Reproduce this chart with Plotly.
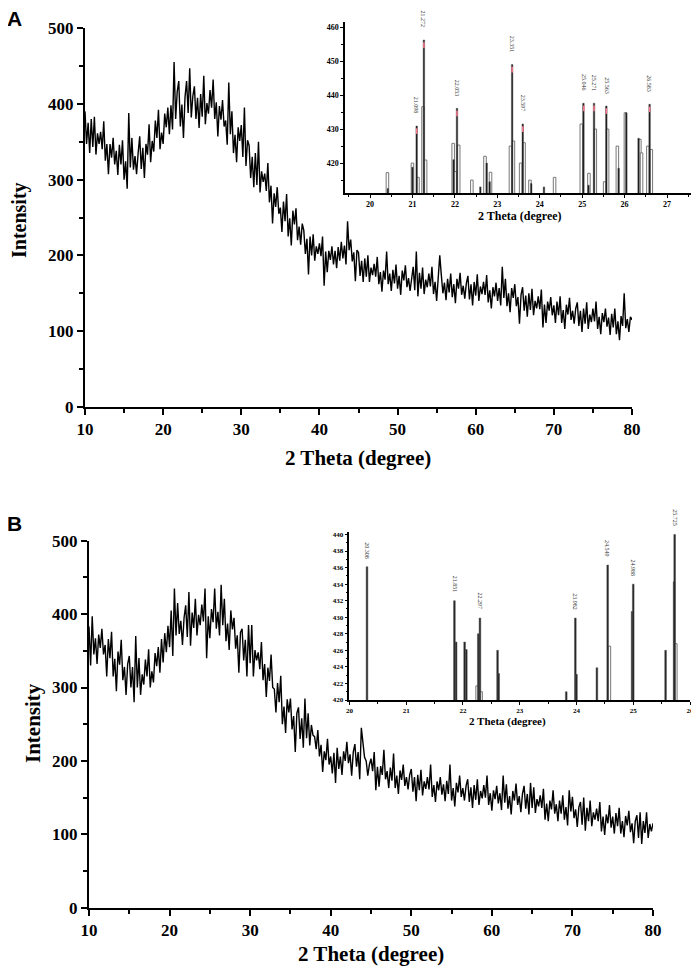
import numpy as np
import plotly.graph_objects as go

# 2-theta scan positions (degrees), 0.2 deg step
two_theta = np.round(np.arange(10, 80.001, 0.2), 2)

# Panel A intensity (5 points per degree, one row = 2 degrees)
intensity_a = [
    390, 347, 375, 335, 380, 343, 383, 333, 361, 347,
    363, 340, 377, 325, 347, 307, 347, 329, 355, 320,
    338, 306, 346, 320, 352, 300, 324, 288, 388, 316,
    355, 313, 331, 307, 335, 357, 314, 342, 302, 347,
    333, 373, 323, 351, 337, 378, 355, 392, 340, 362,
    347, 387, 369, 395, 360, 398, 366, 455, 380, 416,
    430, 370, 399, 355, 409, 430, 388, 447, 382, 410,
    423, 380, 408, 368, 413, 383, 437, 373, 401, 387,
    418, 395, 432, 380, 402, 357, 397, 379, 405, 370,
    378, 346, 428, 360, 390, 335, 359, 323, 369, 351,
    372, 330, 395, 318, 352, 345, 302, 330, 290, 335,
    293, 350, 283, 311, 297, 308, 285, 322, 270, 292,
    242, 282, 264, 290, 255, 263, 231, 271, 245, 281,
    225, 249, 213, 259, 241, 262, 220, 238, 214, 242,
    233, 202, 222, 175, 225, 200, 228, 193, 212, 202,
    216, 199, 225, 160, 205, 178, 206, 194, 212, 188,
    206, 183, 211, 193, 218, 196, 213, 188, 245, 207,
    221, 192, 204, 166, 207, 204, 173, 193, 165, 196,
    172, 200, 165, 184, 174, 189, 172, 198, 162, 178,
    152, 180, 168, 205, 162, 176, 153, 181, 163, 188,
    156, 173, 148, 180, 167, 187, 158, 170, 153, 173,
    185, 154, 205, 146, 177, 156, 184, 149, 168, 158,
    176, 159, 185, 149, 165, 140, 168, 200, 174, 150,
    164, 141, 169, 151, 176, 145, 162, 137, 169, 156,
    177, 148, 160, 143, 163, 173, 142, 162, 134, 165,
    147, 175, 140, 159, 149, 165, 148, 174, 138, 154,
    130, 158, 146, 164, 140, 157, 134, 185, 144, 169,
    133, 150, 125, 157, 144, 162, 133, 145, 110, 148,
    158, 127, 147, 119, 150, 128, 156, 121, 140, 130,
    146, 129, 155, 105, 135, 111, 139, 127, 145, 121,
    134, 111, 139, 121, 146, 111, 128, 103, 135, 122,
    144, 115, 127, 110, 130, 138, 107, 127, 99, 130,
    110, 138, 103, 122, 112, 130, 113, 139, 103, 119,
    96, 124, 112, 130, 106, 118, 95, 123, 105, 130,
    96, 113, 88, 120, 107, 150, 104, 116, 99, 119,
    115,
]

# Panel B intensity
intensity_b = [
    383, 330, 397, 345, 367, 332, 372, 354, 380, 345,
    358, 315, 366, 340, 376, 315, 339, 295, 349, 331,
    365, 310, 328, 290, 332, 343, 300, 328, 280, 370,
    300, 340, 290, 318, 304, 338, 315, 352, 300, 322,
    307, 347, 329, 355, 320, 366, 334, 374, 348, 384,
    355, 405, 343, 435, 371, 415, 373, 391, 358, 395,
    412, 369, 430, 357, 402, 381, 421, 371, 399, 385,
    413, 390, 435, 340, 397, 367, 407, 389, 435, 380,
    403, 371, 440, 385, 421, 363, 387, 351, 405, 379,
    395, 353, 371, 320, 375, 380, 337, 365, 315, 385,
    333, 385, 315, 351, 337, 348, 325, 362, 310, 332,
    287, 327, 309, 345, 300, 298, 266, 306, 280, 316,
    250, 274, 238, 284, 266, 285, 243, 261, 212, 265,
    273, 230, 258, 218, 285, 231, 265, 221, 249, 235,
    233, 216, 242, 206, 222, 185, 213, 201, 230, 195,
    206, 183, 211, 170, 218, 189, 206, 181, 213, 200,
    226, 197, 209, 180, 212, 223, 192, 212, 175, 245,
    225, 205, 200, 180, 195, 203, 186, 212, 160, 192,
    165, 193, 181, 215, 175, 186, 163, 191, 173, 210,
    163, 180, 155, 187, 174, 195, 166, 178, 161, 181,
    189, 158, 178, 145, 181, 160, 188, 153, 172, 162,
    178, 161, 195, 151, 167, 144, 172, 160, 178, 154,
    168, 145, 173, 155, 195, 146, 163, 138, 170, 157,
    180, 151, 163, 146, 166, 175, 144, 164, 136, 167,
    147, 175, 140, 159, 149, 167, 150, 180, 140, 156,
    132, 160, 148, 166, 142, 156, 133, 180, 143, 168,
    135, 152, 127, 159, 146, 169, 140, 152, 130, 155,
    166, 135, 155, 127, 170, 136, 164, 129, 148, 138,
    153, 136, 162, 120, 142, 118, 146, 134, 160, 128,
    141, 118, 146, 128, 153, 120, 137, 112, 160, 131,
    151, 122, 134, 110, 137, 144, 113, 150, 105, 136,
    118, 146, 111, 130, 120, 135, 118, 144, 104, 124,
    99, 127, 115, 140, 109, 124, 101, 129, 111, 136,
    101, 118, 96, 125, 112, 132, 103, 115, 88, 118,
    126, 95, 130, 87, 118, 102, 130, 95, 114, 104,
    115,
]

# Inset A: peak bars (dark and open), labelled peaks
inset_a_dark_x = [20.42, 21.00, 21.10, 21.27, 21.97, 22.05, 22.60, 22.75, 22.82, 23.35, 23.60,
                  23.80, 24.10, 25.03, 25.15, 25.28, 25.57, 25.86, 26.04, 26.33, 26.59]
inset_a_dark_y = [412.5, 418.8, 430.9, 456.2, 421.0, 436.1, 413.0, 420.0, 414.5, 449.0, 431.5,
                  414.0, 413.0, 437.6, 413.5, 437.6, 436.8, 418.5, 434.8, 427.3, 437.3]
inset_a_open_x = [20.41, 21.00, 21.13, 21.25, 21.31, 21.96, 22.01, 22.09, 22.40, 22.71, 22.84,
                  23.31, 23.38, 23.55, 23.63, 23.77, 24.35, 24.98, 25.16, 25.31, 25.53, 25.60,
                  25.83, 26.02, 26.36, 26.40, 26.55, 26.63]
inset_a_open_y = [417.2, 420.0, 415.8, 436.6, 420.9, 425.8, 417.5, 425.3, 415.0, 422.0, 417.3,
                  425.0, 426.5, 420.0, 426.0, 415.0, 415.8, 431.5, 417.0, 430.0, 414.5, 430.0,
                  425.0, 434.8, 427.0, 423.0, 425.0, 424.0]
inset_a_peak_x = [21.10, 21.27, 22.05, 23.35, 23.60, 25.04, 25.28, 25.57, 26.59]
inset_a_peak_y = [430.9, 456.2, 436.1, 449.0, 431.5, 437.6, 437.6, 436.8, 437.3]
inset_a_labels = ['21.098', '21.272', '22.053', '23.351', '23.597', '25.046', '25.271', '25.563', '26.583']

# Inset B
inset_b_dark_x = [20.31, 21.85, 21.88, 22.03, 22.06, 22.27, 22.30, 22.61, 22.63, 23.82, 23.98,
                  24.00, 24.36, 24.55, 24.98, 25.00, 25.57, 25.72, 25.73]
inset_b_dark_y = [436.1, 432.0, 427.0, 427.0, 426.1, 428.0, 429.9, 426.0, 423.2, 421.0, 429.9,
                  423.1, 423.9, 436.3, 430.7, 434.0, 426.0, 434.3, 440.0]
inset_b_open_x = [22.25, 22.32, 24.58, 25.75]
inset_b_open_y = [421.7, 421.0, 426.5, 426.8]
inset_b_peak_x = [20.31, 21.85, 22.30, 23.98, 24.55, 25.00, 25.73]
inset_b_peak_y = [436.1, 432.0, 429.9, 429.9, 436.3, 434.0, 440.0]
inset_b_labels = ['20.308', '21.851', '22.297', '23.982', '24.549', '24.988', '25.725']

SERIF = 'Liberation Serif'

fig = go.Figure()

# main patterns
fig.add_trace(go.Scatter(x=two_theta, y=intensity_a, mode='lines',
                         line=dict(color='black', width=1.4), xaxis='x', yaxis='y'))
fig.add_trace(go.Scatter(x=two_theta, y=intensity_b, mode='lines',
                         line=dict(color='black', width=1.4), xaxis='x3', yaxis='y3'))

# inset A bars
fig.add_trace(go.Bar(x=inset_a_open_x, y=inset_a_open_y, width=0.06,
                     marker=dict(color='white', line=dict(color='#777777', width=1)),
                     xaxis='x2', yaxis='y2'))
fig.add_trace(go.Bar(x=inset_a_dark_x, y=inset_a_dark_y, width=0.035,
                     marker=dict(color='#111111', line=dict(color='#555555', width=0.5)),
                     xaxis='x2', yaxis='y2'))
fig.add_trace(go.Scatter(x=inset_a_peak_x, y=[v - 1.5 for v in inset_a_peak_y], mode='markers',
                         marker=dict(symbol='line-ns', size=4, line=dict(color='#ff7a90', width=1.5)),
                         xaxis='x2', yaxis='y2'))

# inset B bars
fig.add_trace(go.Bar(x=inset_b_open_x, y=inset_b_open_y, width=0.045,
                     marker=dict(color='white', line=dict(color='#777777', width=1)),
                     xaxis='x4', yaxis='y4'))
fig.add_trace(go.Bar(x=inset_b_dark_x, y=inset_b_dark_y, width=0.03,
                     marker=dict(color='#222222', line=dict(color='#555555', width=0.5)),
                     xaxis='x4', yaxis='y4'))


def main_axis(domain, rng, dtick, minor_dtick, anchor):
    return dict(domain=domain, range=rng, dtick=dtick, showline=True, linewidth=2,
                linecolor='black', ticks='outside', ticklen=6, tickwidth=2, tickcolor='black',
                minor=dict(dtick=minor_dtick, ticks='outside', ticklen=4, tickwidth=2,
                           tickcolor='black'),
                showgrid=False, zeroline=False, automargin=False,
                tickprefix='<b>', ticksuffix='</b>',
                tickfont=dict(family=SERIF, size=17, color='black', weight=700), anchor=anchor)


def inset_axis(domain, rng, dtick, minor_dtick, anchor, size):
    return dict(domain=domain, range=rng, dtick=dtick, showline=True, linewidth=1.5,
                linecolor='black', ticks='outside', ticklen=3, tickwidth=1, tickcolor='black',
                minor=dict(dtick=minor_dtick, ticks='outside', ticklen=2, tickwidth=1,
                           tickcolor='black'),
                showgrid=False, zeroline=False, automargin=False,
                tickprefix='<b>', ticksuffix='</b>',
                tickfont=dict(family=SERIF, size=size, color='black', weight=700), anchor=anchor)


W, H = 699, 967
OFF = 8  # the page puts the figure 8 px in from the top-left corner


def fx(px_):
    return (px_ - OFF) / W


def fy(py_):
    return 1 - (py_ - OFF) / H


def note(text, px_, py_, size, family=SERIF, angle=0):
    return dict(text='<b>' + text + '</b>', x=fx(px_), y=fy(py_), xref='paper', yref='paper',
                xanchor='center', yanchor='middle', showarrow=False, textangle=angle,
                font=dict(family=family, size=size, color='black', weight=700))


annotations = [
    note('A', 14, 18, 21, 'Liberation Sans'),
    note('B', 14, 523, 21, 'Liberation Sans'),
    note('Intensity', 20, 220, 20, angle=-90),
    note('Intensity', 33, 723, 21, angle=-90),
    note('2 Theta (degree)', 358, 458, 21),
    note('2 Theta (degree)', 371, 954, 21),
    note('2 Theta (degree)', 520, 216, 12),
    note('2 Theta (degree)', 507, 721, 11),
]

for px_, py_, lab in zip(inset_a_peak_x, inset_a_peak_y, inset_a_labels):
    annotations.append(dict(text=lab, x=px_, y=py_, xref='x2', yref='y2', showarrow=False,
                            textangle=90, xanchor='center', yanchor='bottom', yshift=10,
                            font=dict(family=SERIF, size=6, color='#333333')))
for px_, py_, lab in zip(inset_b_peak_x, inset_b_peak_y, inset_b_labels):
    annotations.append(dict(text=lab, x=px_, y=py_, xref='x4', yref='y4', showarrow=False,
                            textangle=90, xanchor='center', yanchor='bottom', yshift=6,
                            font=dict(family=SERIF, size=6, color='#333333')))

fig.update_layout(
    template='none',
    width=W, height=H,
    margin=dict(l=0, r=0, t=0, b=0, autoexpand=False),
    paper_bgcolor='white', plot_bgcolor='rgba(0,0,0,0)',
    showlegend=False, barmode='overlay',
    xaxis=main_axis([fx(85), fx(632)], [10, 80], 10, 5, 'y'),
    yaxis=main_axis([fy(407), fy(28)], [0, 500], 100, 50, 'x'),
    xaxis3=main_axis([fx(89), fx(653)], [10, 80], 10, 5, 'y3'),
    yaxis3=main_axis([fy(907.7), fy(540.7)], [0, 500], 100, 50, 'x3'),
    xaxis2=inset_axis([fx(345), fx(695)], [19.41, 27.66], 1, 0.5, 'y2', 8),
    yaxis2=inset_axis([fy(193), fy(22)], [411.2, 461.5], 10, 5, 'x2', 8),
    xaxis4=inset_axis([fx(349.4), fx(690)], [20, 26], 1, 0.5, 'y4', 7),
    yaxis4=inset_axis([fy(700), fy(532)], [420, 440.3], 2, 1, 'x4', 7),
    annotations=annotations,
)

fig.write_html('out.html')
